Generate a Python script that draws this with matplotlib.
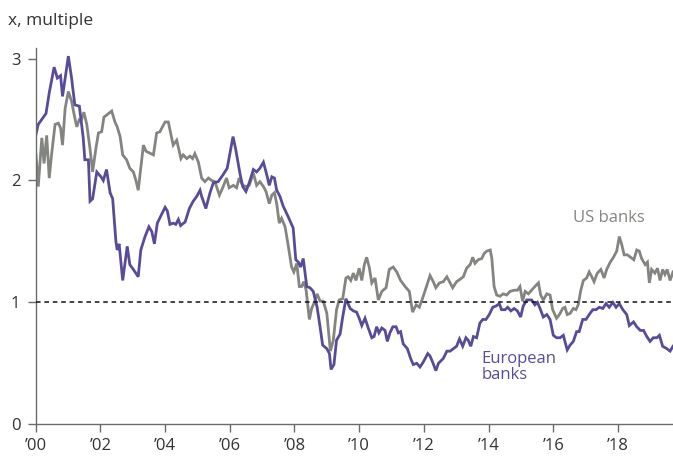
import matplotlib.pyplot as plt
import numpy as np

# decimal years (offset from 2000) and price-to-book multiples
eu_t = [0.01, 0.08, 0.32, 0.42, 0.57, 0.67, 0.77, 0.83, 1.01, 1.11, 1.21, 1.35, 1.47, 1.52, 1.63, 1.68,
        1.76, 1.89, 2.02, 2.09, 2.19, 2.30, 2.38, 2.48, 2.52, 2.58, 2.69, 2.83, 2.91, 3.02, 3.17, 3.25,
        3.38, 3.50, 3.59, 3.67, 3.76, 3.89, 4.00, 4.07, 4.15, 4.25, 4.33, 4.41, 4.48, 4.62, 4.75, 4.87,
        4.98, 5.08, 5.13, 5.26, 5.39, 5.49, 5.64, 5.80, 5.92, 6.10, 6.18, 6.32, 6.40, 6.50, 6.60, 6.73,
        6.83, 6.93, 7.04, 7.14, 7.22, 7.30, 7.38, 7.45, 7.55, 7.65, 7.81, 7.96, 8.04, 8.12, 8.19, 8.27,
        8.38, 8.48, 8.58, 8.70, 8.79, 8.87, 9.00, 9.08, 9.13, 9.22, 9.30, 9.41, 9.49, 9.59, 9.72, 9.82,
        9.92, 10.00, 10.08, 10.18, 10.28, 10.39, 10.46, 10.54, 10.61, 10.70, 10.80, 10.87, 10.95, 11.04,
        11.14, 11.21, 11.28, 11.36, 11.49, 11.59, 11.67, 11.78, 11.88, 11.98, 12.12, 12.19, 12.27, 12.37,
        12.45, 12.60, 12.71, 12.81, 12.91, 13.01, 13.10, 13.20, 13.30, 13.37, 13.45, 13.53, 13.63, 13.73,
        13.82, 13.92, 14.02, 14.13, 14.23, 14.33, 14.40, 14.51, 14.59, 14.69, 14.79, 14.89, 14.99, 15.07,
        15.18, 15.33, 15.43, 15.51, 15.59, 15.69, 15.80, 15.90, 16.00, 16.10, 16.21, 16.31, 16.43, 16.52,
        16.62, 16.72, 16.80, 16.91, 17.01, 17.11, 17.22, 17.32, 17.42, 17.53, 17.63, 17.73, 17.84, 17.94,
        18.04, 18.15, 18.27, 18.35, 18.48, 18.58, 18.69, 18.79, 18.89, 18.99, 19.09, 19.20, 19.28, 19.38,
        19.51, 19.61, 19.70]
eu_v = [2.38, 2.46, 2.55, 2.72, 2.93, 2.84, 2.86, 2.69, 3.02, 2.84, 2.62, 2.61, 2.35, 2.17, 2.17, 1.83,
        1.85, 2.07, 2.03, 2.00, 2.09, 1.90, 1.85, 1.50, 1.43, 1.48, 1.18, 1.46, 1.31, 1.27, 1.21, 1.43,
        1.54, 1.62, 1.58, 1.48, 1.65, 1.72, 1.78, 1.75, 1.64, 1.65, 1.64, 1.68, 1.63, 1.66, 1.77, 1.83,
        1.87, 1.92, 1.87, 1.77, 1.90, 1.98, 1.99, 2.05, 2.10, 2.36, 2.26, 2.05, 1.95, 1.91, 1.98, 2.09,
        2.07, 2.10, 2.15, 2.05, 1.96, 2.03, 2.02, 1.92, 1.87, 1.79, 1.70, 1.61, 1.35, 1.33, 1.29, 1.36,
        1.13, 1.12, 1.09, 0.96, 0.80, 0.65, 0.62, 0.58, 0.45, 0.49, 0.69, 0.74, 0.88, 1.03, 0.95, 0.93,
        0.92, 0.87, 0.81, 0.87, 0.79, 0.71, 0.72, 0.80, 0.75, 0.79, 0.77, 0.68, 0.75, 0.80,
        0.80, 0.75, 0.76, 0.66, 0.62, 0.54, 0.49, 0.50, 0.47, 0.51, 0.58, 0.56, 0.51, 0.44,
        0.50, 0.54, 0.60, 0.60, 0.62, 0.64, 0.70, 0.64, 0.71, 0.69, 0.64, 0.72, 0.71, 0.83,
        0.86, 0.86, 0.90, 0.96, 0.97, 0.99, 0.94, 0.94, 0.96, 0.93, 0.95, 0.93, 0.88, 0.97,
        1.02, 1.02, 0.98, 1.00, 0.95, 0.88, 0.90, 0.86, 0.73, 0.71, 0.71, 0.73, 0.61, 0.65,
        0.68, 0.76, 0.76, 0.86, 0.86, 0.90, 0.94, 0.94, 0.96, 0.95, 0.99, 0.96, 1.00, 0.96,
        0.99, 0.94, 0.90, 0.81, 0.84, 0.80, 0.77, 0.77, 0.72, 0.68, 0.71, 0.71, 0.73, 0.64,
        0.62, 0.60, 0.64]

us_t = [0.01, 0.08, 0.19, 0.26, 0.34, 0.42, 0.49, 0.60, 0.70, 0.77, 0.83, 0.91, 1.01, 1.11, 1.19, 1.27,
        1.35, 1.42, 1.49, 1.58, 1.68, 1.76, 1.86, 1.94, 2.04, 2.11, 2.21, 2.35, 2.45, 2.52, 2.61, 2.69,
        2.81, 2.91, 3.02, 3.10, 3.17, 3.33, 3.41, 3.64, 3.74, 3.84, 4.00, 4.10, 4.25, 4.36, 4.49, 4.56,
        4.67, 4.77, 4.85, 4.92, 5.03, 5.13, 5.23, 5.34, 5.44, 5.54, 5.68, 5.78, 5.90, 5.98, 6.11, 6.21,
        6.29, 6.40, 6.52, 6.60, 6.73, 6.83, 6.93, 7.04, 7.12, 7.22, 7.30, 7.38, 7.45, 7.53, 7.60, 7.71,
        7.81, 7.91, 7.98, 8.07, 8.15, 8.22, 8.29, 8.36, 8.46, 8.53, 8.63, 8.70, 8.79, 8.89, 9.00, 9.11,
        9.20, 9.30, 9.38, 9.49, 9.59, 9.66, 9.74, 9.82, 9.90, 10.00, 10.08, 10.16, 10.23, 10.31, 10.39,
        10.49, 10.59, 10.70, 10.83, 10.93, 11.05, 11.16, 11.28, 11.42, 11.55, 11.65, 11.76, 11.86, 11.98,
        12.09, 12.19, 12.29, 12.37, 12.48, 12.60, 12.71, 12.79, 12.89, 13.01, 13.12, 13.22, 13.32, 13.43,
        13.51, 13.58, 13.68, 13.79, 13.86, 13.94, 14.05, 14.10, 14.17, 14.25, 14.35, 14.45, 14.56, 14.66,
        14.79, 14.89, 14.97, 15.05, 15.13, 15.23, 15.33, 15.43, 15.54, 15.61, 15.69, 15.80, 15.90, 15.98,
        16.10, 16.19, 16.29, 16.36, 16.43, 16.52, 16.62, 16.70, 16.77, 16.85, 16.93, 17.03, 17.11, 17.19,
        17.26, 17.36, 17.47, 17.57, 17.65, 17.76, 17.86, 17.96, 18.04, 18.11, 18.19, 18.29, 18.39, 18.49,
        18.58, 18.66, 18.73, 18.84, 18.91, 18.97, 19.04, 19.14, 19.22, 19.30, 19.38, 19.45, 19.52, 19.61,
        19.70]
us_v = [2.21, 1.95, 2.35, 2.14, 2.37, 2.02, 2.21, 2.46, 2.47, 2.43, 2.29, 2.59, 2.73, 2.65, 2.54, 2.44,
        2.50, 2.50, 2.56, 2.46, 2.26, 2.07, 2.26, 2.39, 2.40, 2.52, 2.54, 2.57, 2.48, 2.44, 2.36, 2.21,
        2.17, 2.10, 2.07, 2.00, 1.92, 2.29, 2.24, 2.21, 2.39, 2.40, 2.48, 2.48, 2.29, 2.33, 2.18, 2.21,
        2.18, 2.20, 2.18, 2.22, 2.15, 2.02, 1.99, 2.02, 2.00, 1.99, 1.88, 1.94, 2.02, 1.94, 1.96, 1.94,
        2.02, 1.96, 1.95, 1.96, 2.06, 1.96, 1.99, 1.95, 1.91, 1.81, 1.88, 1.90, 1.81, 1.65, 1.69, 1.62,
        1.46, 1.29, 1.25, 1.32, 1.13, 1.13, 1.17, 1.10, 0.86, 0.95, 1.01, 1.07, 1.01, 1.01, 0.91, 0.60,
        0.69, 0.94, 1.02, 1.03, 1.20, 1.21, 1.18, 1.24, 1.18, 1.28, 1.18, 1.31, 1.37, 1.29, 1.16,
        1.20, 1.02, 1.09, 1.12, 1.27, 1.29, 1.25, 1.18, 1.13, 1.09, 0.92, 0.98, 0.96, 1.05,
        1.14, 1.22, 1.17, 1.12, 1.16, 1.17, 1.21, 1.17, 1.12, 1.17, 1.19, 1.21, 1.28, 1.31,
        1.37, 1.32, 1.35, 1.36, 1.40, 1.42, 1.43, 1.36, 1.13, 1.06, 1.05, 1.07, 1.06, 1.09,
        1.10, 1.10, 1.13, 1.01, 1.09, 1.07, 1.10, 1.13, 1.16, 1.06, 1.02, 1.07, 1.06, 0.94,
        0.87, 0.90, 0.95, 0.96, 0.90, 0.91, 0.95, 0.94, 0.98, 1.10, 1.18, 1.20, 1.25, 1.21,
        1.17, 1.24, 1.27, 1.20, 1.27, 1.33, 1.37, 1.42, 1.54, 1.48, 1.39, 1.39, 1.37, 1.35,
        1.43, 1.42, 1.36, 1.31, 1.33, 1.16, 1.27, 1.24, 1.28, 1.18, 1.27, 1.23, 1.27, 1.18,
        1.25]

year_ticks = [2000, 2002, 2004, 2006, 2008, 2010, 2012, 2014, 2016, 2018]
year_labels = ["\u2019" + str(y)[2:] for y in year_ticks]

purple = "#5a4b98"
grey = "#838580"

plt.rcParams['font.family'] = ['Open Sans', 'DejaVu Sans']

fig = plt.figure(figsize=(6.73, 4.57), dpi=100)
ax = fig.add_axes([0.053, 0.0716, 0.947, 0.8234])

ax.plot(2000 + np.array(us_t), us_v, color=grey, lw=2.0, solid_joinstyle='miter')
ax.plot(2000 + np.array(eu_t), eu_v, color=purple, lw=2.0, solid_joinstyle='miter')
ax.axhline(1, color="#111111", lw=1.1, ls=(0, (3, 2.5)), zorder=3)

ax.set_xlim(2000, 2019.70)
ax.set_ylim(0, 3.087)
ax.set_xticks(year_ticks)
ax.set_xticklabels(year_labels)
ax.set_yticks([0, 1, 2, 3])

for s in ["top", "right"]:
    ax.spines[s].set_visible(False)
for s in ["left", "bottom"]:
    ax.spines[s].set_color("#6b6b6b")
    ax.spines[s].set_linewidth(1.0)
ax.tick_params(colors="#6b6b6b", labelcolor="#333333", labelsize=12, length=6, width=1.0)
ax.tick_params(axis="y", pad=5)
ax.tick_params(axis="x", pad=4)

fig.text(0.012, 0.955, "x, multiple", fontsize=12.5, color="#333333", va="center", ha="left")
ax.text(2017.72, 1.69, "US banks", fontsize=12, color=grey, ha="center", va="center")
ax.text(2013.78, 0.47, "European\nbanks", fontsize=12, color=purple, ha="left", va="center",
        linespacing=1.05)

fig.savefig("out.png", dpi=100)
